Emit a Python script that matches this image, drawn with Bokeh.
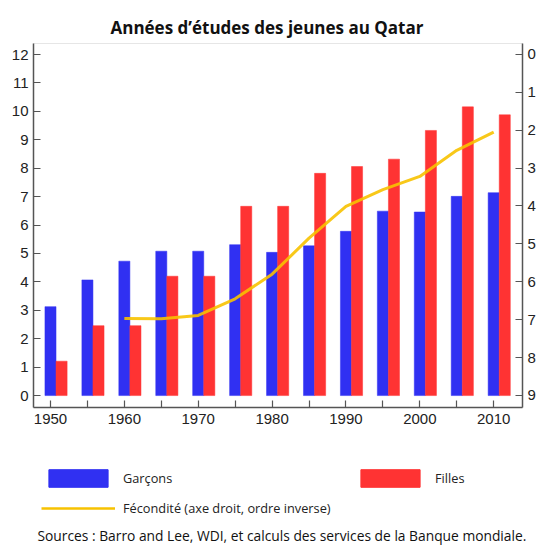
from bokeh.plotting import figure
from bokeh.layouts import column
from bokeh.models import (Range1d, LinearAxis, FixedTicker, ColumnDataSource,
                          Legend, LegendItem, Label)
from bokeh.embed import file_html
from bokeh.resources import INLINE

# ---- data ----
years = [1950, 1955, 1960, 1965, 1970, 1975, 1980, 1985, 1990, 1995, 2000, 2005, 2010]
garcons = [3.13, 4.07, 4.73, 5.08, 5.08, 5.31, 5.04, 5.27, 5.78, 6.49, 6.46, 7.01, 7.14]
filles = [1.21, 2.46, 2.46, 4.20, 4.20, 6.66, 6.66, 7.82, 8.06, 8.32, 9.33, 10.16, 9.88]
fert_years = [1960, 1965, 1970, 1975, 1980, 1985, 1990, 1995, 2000, 2005, 2010]
fecondite = [6.97, 6.98, 6.89, 6.45, 5.80, 4.85, 4.01, 3.57, 3.22, 2.53, 2.05]

left_ticks = list(range(0, 13))
right_ticks = list(range(0, 10))
x_major = [1950, 1960, 1970, 1980, 1990, 2000, 2010]
x_minor = [1955, 1965, 1975, 1985, 1995, 2005]

title_text = "Années d\u2019études des jeunes au Qatar"
legend_labels = ["Garçons", "Filles", "Fécondité (axe droit, ordre inverse)"]
source_text = "Sources : Barro and Lee, WDI, et calculs des services de la Banque mondiale."

BLUE = "#3030F2"
RED = "#FF3333"
GOLD = "#F7C200"
AXIS = "#555555"
TXT = "#222222"

bar_w = 1.5
src = ColumnDataSource(dict(
    x_g=years,
    x_f=[y + bar_w for y in years],
    g=garcons,
    f=filles,
))
fsrc = ColumnDataSource(dict(x=fert_years, y=fecondite))

p = figure(frame_width=489, frame_height=364,
           min_border_left=33, min_border_right=18,
           min_border_top=43, min_border_bottom=26,
           x_range=Range1d(1947.7, 2013.9), y_range=Range1d(-0.42, 12.39),
           output_backend="svg", toolbar_location=None,
           background_fill_color="white", border_fill_color="white")
p.extra_y_ranges = {"fert": Range1d(start=9.32, end=-0.29)}

p.grid.visible = False
p.outline_line_color = "#e6e6e6"
p.outline_line_width = 1

# title
p.title.text = title_text
p.title.align = "left"
p.title.offset = 77
p.title.standoff = 9
p.title.text_font = "Open Sans"
p.title.text_font_style = "bold"
p.title.text_font_size = "17px"
p.title.text_color = "#111111"

rg = p.vbar(x="x_g", top="g", bottom=0, width=bar_w, source=src,
            fill_color=BLUE, line_color=BLUE, line_width=0.5)
rf = p.vbar(x="x_f", top="f", bottom=0, width=bar_w, source=src,
            fill_color=RED, line_color=RED, line_width=0.5)
rl = p.line(x="x", y="y", source=fsrc, y_range_name="fert",
            line_color=GOLD, line_width=3, line_alpha=0.9)

def style_axis(ax):
    ax.axis_line_color = AXIS
    ax.axis_line_width = 1.5
    ax.major_tick_line_color = AXIS
    ax.minor_tick_line_color = AXIS
    ax.major_tick_line_width = 1.2
    ax.minor_tick_line_width = 1.2
    ax.major_tick_in = 7
    ax.major_tick_out = 0
    ax.minor_tick_in = 0
    ax.minor_tick_out = 0
    ax.major_label_text_font = "Liberation Sans"
    ax.major_label_text_font_size = "15px"
    ax.major_label_text_color = TXT
    ax.major_label_standoff = 5

# x axis
xa = p.xaxis[0]
style_axis(xa)
xa.ticker = FixedTicker(ticks=x_major, minor_ticks=x_minor)
xa.minor_tick_in = 7
xa.major_label_standoff = 6

# left y axis
ya = p.yaxis[0]
style_axis(ya)
ya.ticker = FixedTicker(ticks=left_ticks)

# right y axis (reversed fertility)
ra = LinearAxis(y_range_name="fert", ticker=FixedTicker(ticks=right_ticks))
style_axis(ra)
p.add_layout(ra, "right")

# ---- bottom strip: legend + sources ----
q = figure(frame_width=540, frame_height=115,
           min_border_left=0, min_border_right=0,
           min_border_top=0, min_border_bottom=0,
           x_range=Range1d(0, 540), y_range=Range1d(0, 115),
           output_backend="svg", toolbar_location=None,
           background_fill_color="white", border_fill_color="white")
q.axis.visible = False
q.grid.visible = False
q.outline_line_color = None

# legend proxies: same series, outside this strip's visible range
lg = q.vbar(x="x_g", top="g", width=bar_w, source=src,
            fill_color=BLUE, line_color=BLUE)
lf = q.vbar(x="x_f", top="f", width=bar_w, source=src,
            fill_color=RED, line_color=RED)
ll = q.line(x="x", y="y", source=fsrc, line_color=GOLD, line_width=2.5)

legend = Legend(items=[
    LegendItem(label=legend_labels[0], renderers=[lg]),
    LegendItem(label=legend_labels[1], renderers=[lf]),
    LegendItem(label=legend_labels[2], renderers=[ll]),
], location=(41, 29), orientation="horizontal", ncols=2)
legend.glyph_width = 74
legend.glyph_height = 22
legend.label_standoff = 8
legend.spacing = 8
legend.padding = 12
legend.label_width = 222
legend.label_text_font = "Open Sans"
legend.label_text_font_size = "12.75px"
legend.label_text_color = "#222222"
legend.border_line_color = None
legend.background_fill_alpha = 0
q.add_layout(legend, "center")

q.add_layout(Label(x=4, y=13, x_units="screen", y_units="screen",
                   text=source_text, text_align="left", text_baseline="middle",
                   text_font="Open Sans", text_font_size="13.8px",
                   text_color="#111111"))

layout = column(p, q, spacing=0)
open("out.html", "w").write(file_html(layout, INLINE))
